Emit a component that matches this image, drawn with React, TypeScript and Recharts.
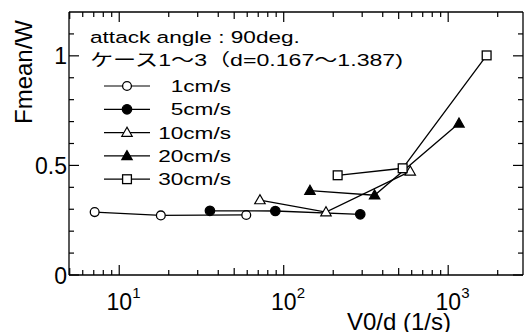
import { Legend, Scatter, ScatterChart, XAxis, YAxis } from 'recharts'

// series
const speedNames = ['1cm/s', '5cm/s', '10cm/s', '20cm/s', '30cm/s']
const markerKinds = ['circle', 'circle', 'triangle', 'triangle', 'square']
const markerFilled = [false, true, false, true, false]

const v0d1 = [7.09, 17.9, 59.2]
const fw1 = [0.287, 0.272, 0.274]
const v0d5 = [35.6, 88.9, 292]
const fw5 = [0.293, 0.292, 0.277]
const v0d10 = [71.7, 180.7, 588]
const fw10 = [0.342, 0.287, 0.473]
const v0d20 = [144.4, 357, 1163]
const fw20 = [0.385, 0.364, 0.692]
const v0d30 = [212.8, 528.7, 1713]
const fw30 = [0.455, 0.487, 1.002]

const xTicks = [5, 6, 7, 8, 9, 10, 20, 30, 40, 50, 60, 70, 80, 90, 100, 200, 300, 400, 500, 600, 700, 800, 900, 1000, 2000]
const xMajor = [10, 100, 1000]
const yTicks = [0, 0.1, 0.2, 0.3, 0.4, 0.5, 0.6, 0.7, 0.8, 0.9, 1, 1.1]
const yMajor = [0, 0.5, 1]

const titleLine1 = 'attack angle : 90deg.'
const titleLine2 = 'ケース1～3（d=0.167～1.387)'

const xValues = [v0d1, v0d5, v0d10, v0d20, v0d30]
const yValues = [fw1, fw5, fw10, fw20, fw30]
const series = speedNames.map((name, i) => ({
  name,
  kind: markerKinds[i],
  filled: markerFilled[i],
  data: xValues[i].map((x, j) => ({ x, y: yValues[i][j] }))
}))

const FONT = "'Liberation Sans', Arial, Helvetica, sans-serif"
const JP_FONT = "'Liberation Sans', 'Noto Sans CJK JP', sans-serif"

const Marker = ({ cx, cy, kind, filled }: any) => {
  const fill = filled ? '#000' : '#fff'
  if (kind === 'circle') {
    return <circle cx={cx} cy={cy} r={filled ? 4.7 : 4.4} fill={fill} stroke='#000' strokeWidth={1.3} />
  }
  if (kind === 'triangle') {
    const pts = `${cx},${cy - 5.3} ${cx - 5.2},${cy + 3.7} ${cx + 5.2},${cy + 3.7}`
    return <polygon points={pts} fill={fill} stroke='#000' strokeWidth={1.2} />
  }
  return <rect x={cx - 4.4} y={cy - 4.4} width={8.8} height={8.8} fill={fill} stroke='#000' strokeWidth={1.3} />
}

const XTick = ({ x, y, payload, dir, labels }: any) => {
  const v = payload.value
  const major = xMajor.includes(v)
  const half = String(v)[0] === '5'
  const len = major ? 10 : half ? 7 : 5
  return (
    <g>
      <line x1={x} x2={x} y1={y} y2={y + dir * len} stroke='#000' strokeWidth={1.2} />
      {labels && major && (
        <g fontFamily={FONT} fill='#000'>
          <text x={x} y={y + 35} textAnchor='middle' fontSize={23}>10</text>
          <text x={x + 13} y={y + 23} fontSize={15}>{Math.round(Math.log10(v))}</text>
        </g>
      )}
    </g>
  )
}

const YTick = ({ x, y, payload, dir, labels }: any) => {
  const v = payload.value
  const major = yMajor.includes(v)
  const len = major ? 10 : 5
  return (
    <g>
      <line x1={x} x2={x + dir * len} y1={y} y2={y} stroke='#000' strokeWidth={1.2} />
      {labels && major && (
        <text x={x - 2} y={y + 8.5} textAnchor='end' fontSize={23} fontFamily={FONT} fill='#000'>
          {v}
        </text>
      )}
    </g>
  )
}

const LegendBox = () => (
  <svg width={524} height={200}>
    <g fontSize={17} fill='#000'>
      <text transform='translate(90,43.3) scale(1.33,1)' fontFamily={FONT}>{titleLine1}</text>
      <text transform='translate(90,66) scale(1.36,1)' fontFamily={JP_FONT}>{titleLine2}</text>
      {series.map((s, i) => {
        const cy = 86 + i * 23.3
        return (
          <g key={s.name}>
            <line x1={104} x2={150} y1={cy} y2={cy} stroke='#000' strokeWidth={1.2} />
            <Marker cx={127} cy={cy} kind={s.kind} filled={s.filled} />
            <text transform={`translate(231,${cy + 6}) scale(1.33,1)`} textAnchor='end' fontFamily={FONT}>
              {s.name}
            </text>
          </g>
        )
      })}
    </g>
  </svg>
)

const axisLine = { stroke: '#000', strokeWidth: 1.3 }

export default function App() {
  return (
    <div style={{ position: 'absolute', left: 0, top: 0, background: '#fff' }}>
      <ScatterChart width={524} height={332} margin={{ top: 0, right: 0, bottom: 0, left: 0 }}>
        <XAxis
          xAxisId='bottom'
          dataKey='x'
          type='number'
          scale='log'
          domain={[4.95, 2850]}
          allowDataOverflow
          ticks={xTicks}
          interval={0}
          height={57}
          tickSize={0}
          tickMargin={0}
          tickLine={false}
          axisLine={axisLine}
          tick={(p: any) => <XTick {...p} dir={-1} labels />}
        />
        <XAxis
          xAxisId='top'
          orientation='top'
          dataKey='x'
          type='number'
          scale='log'
          domain={[4.95, 2850]}
          allowDataOverflow
          ticks={xTicks}
          interval={0}
          height={12}
          tickSize={0}
          tickMargin={0}
          tickLine={false}
          axisLine={axisLine}
          tick={(p: any) => <XTick {...p} dir={1} />}
        />
        <YAxis
          yAxisId='left'
          dataKey='y'
          type='number'
          domain={[0, 1.2]}
          allowDataOverflow
          ticks={yTicks}
          interval={0}
          width={69}
          tickSize={0}
          tickMargin={0}
          tickLine={false}
          axisLine={axisLine}
          tick={(p: any) => <YTick {...p} dir={1} labels />}
        />
        <YAxis
          yAxisId='right'
          orientation='right'
          type='number'
          domain={[0, 1.2]}
          allowDataOverflow
          ticks={yTicks}
          interval={0}
          width={1}
          tickSize={0}
          tickMargin={0}
          tickLine={false}
          axisLine={axisLine}
          tick={(p: any) => <YTick {...p} dir={-1} />}
        />
        {series.map((s) => (
          <Scatter
            key={s.name}
            name={s.name}
            data={s.data}
            xAxisId='bottom'
            yAxisId='left'
            fill='#000'
            line={{ stroke: '#000', strokeWidth: 1.3 }}
            lineType='joint'
            shape={(p: any) => <Marker cx={p.cx} cy={p.cy} kind={s.kind} filled={s.filled} />}
            isAnimationActive={false}
          />
        ))}
        <Legend
          layout='horizontal'
          verticalAlign='middle'
          align='center'
          wrapperStyle={{ left: 0, top: 0, width: 524, height: 200, pointerEvents: 'none' }}
          content={<LegendBox />}
        />
      </ScatterChart>
      <svg width={524} height={332} style={{ position: 'absolute', left: 0, top: 0, pointerEvents: 'none' }}>
        <text transform='translate(32,72) rotate(-90)' textAnchor='middle' fontSize={24} fontFamily={FONT} fill='#000'>
          Fmean/W
        </text>
        <text x={399} y={330} textAnchor='middle' fontSize={24} fontFamily={FONT} fill='#000'>
          V0/d (1/s)
        </text>
      </svg>
    </div>
  )
}
